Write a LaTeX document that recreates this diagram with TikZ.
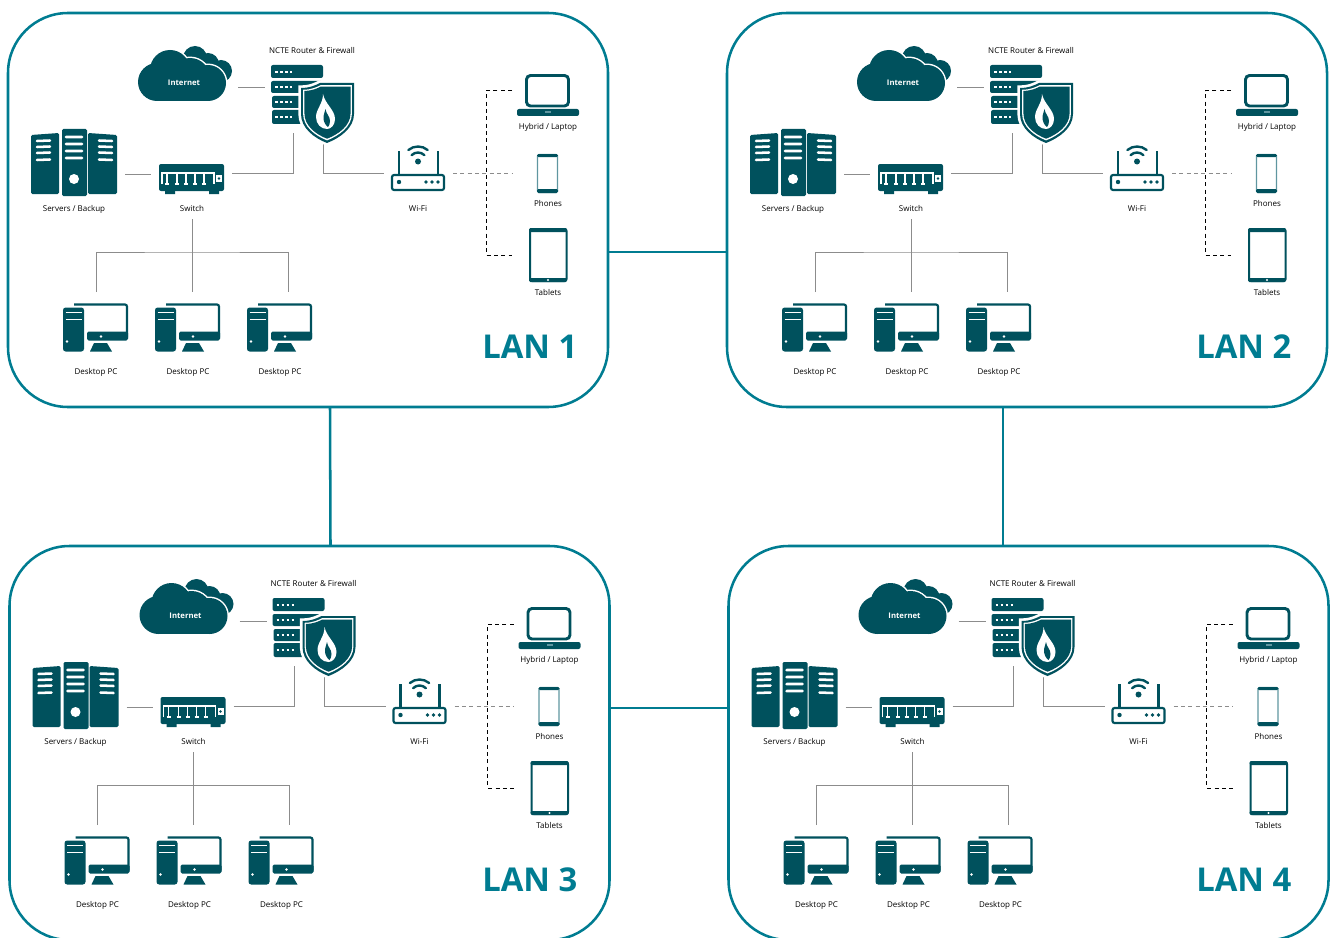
\documentclass[tikz,border=0pt]{standalone}
\usepackage{fontspec}
\setmainfont{Open Sans}
\usetikzlibrary{positioning}

\definecolor{icondark}{RGB}{0,81,93}
\definecolor{panelteal}{RGB}{0,124,145}
\definecolor{wiregray}{RGB}{140,140,140}
\definecolor{phoneedge}{RGB}{95,150,160}

\tikzset{
	panelbox/.style={draw=panelteal,line width=1.9pt,rounded corners=45pt,minimum width=450pt,minimum height=295.5pt,inner sep=0pt,outer sep=0pt},
	panellink/.style={draw=panelteal,line width=1.9pt},
	lbl/.style={font=\fontsize{6}{7}\selectfont,text=black,inner sep=0pt,outer sep=0pt,text height=6.5pt,text depth=1pt,minimum height=16.5pt},
	cloudlbl/.style={lbl,font=\fontsize{5.8}{7}\selectfont\bfseries,text=white},
	titlelbl/.style={font=\fontsize{24.6}{28}\selectfont\bfseries,text=panelteal,inner sep=0pt,anchor=west},
	wire/.style={draw=wiregray,line width=0.75pt},
	graydash/.style={draw=wiregray,line width=0.75pt,dash pattern=on 3pt off 2.5pt},
	blackdash/.style={draw=black,line width=0.75pt,dash pattern=on 3pt off 2.5pt},
	iconline/.style={draw=icondark,line width=1.6pt},
	whiteline/.style={draw=white,line width=1.9pt,line cap=round},
	pcicon/.pic={
		\fill[icondark,rounded corners=2pt] (0,4) rectangle (21,48);
		\draw[draw=white,line width=1.4pt] (2.5,9) -- (18.5,9) (2.5,16) -- (18.5,16);
		\fill[white] (4,38) circle (1.3);
		\draw[iconline,rounded corners=1.5pt] (11,1) -- (64,1) -- (64,34);
		\fill[icondark,rounded corners=1.2pt] (24,28) rectangle (65,37);
		\fill[white] (38,33) circle (1.4);
		\fill[icondark] (31,39.5) -- (44,39.5) -- (49,48) -- (27,48) -- cycle;
	}
}

\newcommand{\shieldpath}{(301,88) .. controls (310,88) and (316,85) .. (320,83) -- (354,83) -- (354,114) .. controls (354,128) and (340,138) .. (327,143) .. controls (314,138) and (301,128) .. (301,114) -- cycle}
\newcommand{\cloudfront}{(157,82) circle (19) (170,70) circle (20) (190,78) circle (20) (208,83) circle (18)}

\newcommand{\lanpanel}[5]{
	\begin{scope}[shift={(#2,#3)}]
		\node[panelbox] (#1) at (308,210) {};

		\node[lbl] (#1-fw) at (312,50) {NCTE Router \& Firewall};
		\node[lbl,below left=118.5pt and 90pt of #1-fw] (#1-switch) {Switch};
		\node[lbl,left=88.5pt of #1-switch] (#1-servers) {Servers / Backup};
		\node[lbl,right=169.5pt of #1-switch] (#1-wifi) {Wi-Fi};
		\node[lbl,below right=57pt and 177pt of #1-fw] (#1-laptop) {Hybrid / Laptop};
		\node[lbl,below=57.75pt of #1-laptop] (#1-phones) {Phones};
		\node[lbl,below=66.75pt of #1-phones] (#1-tablets) {Tablets};
		\node[lbl,below left=122.25pt and 72pt of #1-switch] (#1-pc1) {Desktop PC};
		\node[lbl,right=69pt of #1-pc1] (#1-pc2) {Desktop PC};
		\node[lbl,right=69pt of #1-pc2] (#1-pc3) {Desktop PC};

		\coordinate (#1-cloudport) at (238,88);
		\coordinate (#1-fwin) at (265,88);
		\coordinate (#1-srvport) at (125,174);
		\coordinate (#1-swleft) at (151,174);
		\coordinate (#1-swright) at (232,173);
		\coordinate (#1-fwdown) at (293,133);
		\coordinate (#1-fwout) at (323,143);
		\coordinate (#1-wifiin) at (384,173);
		\coordinate (#1-wifiout) at (453,173);
		\coordinate (#1-phoneport) at (512,173);
		\coordinate (#1-lapport) at (512,91);
		\coordinate (#1-dashbus) at (486,173);
		\coordinate (#1-tabport) at (512,255);
		\coordinate (#1-treebus) at (192,252);
		\coordinate (#1-drop1) at (96,292);
		\coordinate (#1-drop2) at (192,292);
		\coordinate (#1-drop3) at (288,292);

		\draw[wire] (#1-cloudport) -- (#1-fwin);
		\draw[wire] (#1-srvport) -- (#1-swleft);
		\draw[wire] (#1-swright) -| (#1-fwdown);
		\draw[wire] (#1-fwout) |- (#1-wifiin);
		\draw[wire] (#1-switch.south) -- (#1-drop2);
		\draw[wire] (#1-drop1) |- (#1-treebus) -| (#1-drop3);
		\draw[graydash] (#1-wifiout) -- (#1-phoneport);
		\draw[blackdash] (#1-lapport) -| (#1-dashbus) |- (#1-tabport);

		\fill[icondark] (195,58) circle (12);
		\fill[icondark] (208,64) circle (11);
		\fill[icondark] (221,71) circle (11);
		\draw[draw=white,line width=2.2pt,fill=white] \cloudfront;
		\fill[icondark] (157,82) circle (19);
		\fill[icondark] (170,70) circle (20);
		\fill[icondark] (190,78) circle (20);
		\fill[icondark] (208,83) circle (18);
		\fill[icondark] (157,75) rectangle (208,101);
		\node[cloudlbl,below left=24pt and 96pt of #1-fw] (#1-inet) {Internet};

		\fill[icondark,rounded corners=1.5pt] (271,65) rectangle (323,78) (271,81) rectangle (323,93) (272,96) rectangle (323,108) (272,110) rectangle (323,124);
		\draw[white,line width=2.2pt,dash pattern=on 1.9pt off 1.9pt] (275,72) -- (292,72) (275,87) -- (292,87) (275,102) -- (292,102) (275,117) -- (292,117);
		\draw[draw=white,line width=4pt] \shieldpath;
		\fill[icondark] \shieldpath;
		\fill[white,scale around={0.92:(327.5,110)}] \shieldpath;
		\fill[icondark,scale around={0.87:(327.5,110)}] \shieldpath;
		\fill[white] (323,94) .. controls (325,104) and (335,110) .. (335,119) .. controls (335,125) and (331,129) .. (327,129) .. controls (321,129) and (316,124) .. (316,117) .. controls (316,109) and (323,104) .. cycle;
		\fill[icondark] (325.5,109) .. controls (326,114) and (330,116) .. (330,121) .. controls (330,124) and (329,126) .. (328,127) .. controls (325,125) and (323.5,121) .. (323.5,118) .. controls (323.5,114) and (325,112) .. cycle;

		\fill[icondark,rounded corners=1pt] (31,135) -- (59,133) -- (59,194) -- (31,194) -- cycle (88,133) -- (117,135) -- (117,194) -- (88,194) -- cycle (62,129) rectangle (87,196);
		\draw[whiteline] (37,141) -- (50,140.5) (37,147) -- (50,146.5) (37,153) -- (50,152.5) (37,160) -- (50,159.5) (66,137) -- (82,137) (66,144) -- (82,144) (66,151) -- (82,151) (66,158) -- (82,158) (99,140.5) -- (112,141) (99,146.5) -- (112,147) (99,152.5) -- (112,153) (99,159.5) -- (112,160);
		\fill[white] (74,179) circle (5);

		\fill[icondark,rounded corners=1.5pt] (159,164) rectangle (224,191);
		\fill[icondark] (165,191) rectangle (175,194) (209,191) rectangle (219,194);
		\draw[draw=white,line width=0.9pt] (162,184) -- (162,173) -- (214,173) -- (214,184) (165,184) -- (169,184) (167,173) -- (167,184) (175,184) -- (179,184) (177,173) -- (177,184) (184,184) -- (188,184) (186,173) -- (186,184) (193,184) -- (197,184) (195,173) -- (195,184) (202,184) -- (206,184) (204,173) -- (204,184);
		\fill[white] (216,175) rectangle (222,182);
		\fill[icondark] (219,178.5) circle (1.4);

		\draw[draw=icondark,line width=1.6pt,rounded corners=1.5pt] (392,175) rectangle (444,190);
		\draw[draw=icondark,line width=1.6pt] (399,151) -- (399,174) (438,151) -- (438,174);
		\fill[icondark] (399,182) circle (2.2);
		\fill[icondark] (426,182) circle (1.8);
		\fill[icondark] (432,182) circle (1.8);
		\fill[icondark] (438,182) circle (1.8);
		\fill[icondark] (418,161.5) circle (3);
		\draw[draw=icondark,line width=1.8pt,line cap=round] (418,161.5) ++(-135:9) arc[start angle=-135,end angle=-45,radius=9];
		\draw[draw=icondark,line width=1.8pt,line cap=round] (418,161.5) ++(-130:15) arc[start angle=-130,end angle=-50,radius=15];

		\draw[draw=icondark,line width=2.2pt,rounded corners=3pt] (526.5,75.5) rectangle (568.5,106);
		\fill[icondark,rounded corners=1.5pt] (517,109) rectangle (579,116);
		\fill[phoneedge] (545,111) rectangle (551,113);

		\draw[draw=phoneedge,line width=0.8pt,rounded corners=1pt] (537.5,154.5) rectangle (557.5,192.5);
		\fill[icondark,rounded corners=1pt] (537,154) rectangle (558,157);
		\fill[icondark,rounded corners=1pt] (537,189) rectangle (558,193);

		\draw[draw=icondark,line width=1.5pt,rounded corners=1.5pt] (530,229) rectangle (566.5,281);
		\fill[icondark,rounded corners=1pt] (529,228) rectangle (567,232);
		\fill[icondark,rounded corners=1pt] (529,278) rectangle (567,282);
		\fill[white] (548,280) circle (1.1);

		\pic at (63,303.5) {pcicon};
		\pic at (155,303.5) {pcicon};
		\pic at (247,303.5) {pcicon};

		\node[titlelbl] (#1-title) at (#5,347) {#4};
	\end{scope}
}

\begin{document}
\begin{tikzpicture}[x=0.75pt,y=-0.75pt,on grid]
		\useasboundingbox (0,0) rectangle (1333,938);
		\clip (0,0) rectangle (1333,937.5);

		\lanpanel{lan1}{0}{0}{LAN 1}{482}
		\lanpanel{lan2}{719}{0}{LAN 2}{477}
		\lanpanel{lan3}{1.5}{533}{LAN 3}{480.5}
		\lanpanel{lan4}{720.5}{533}{LAN 4}{475.5}

		\draw[panellink] ([shift={(0,42)}]lan1.east) -- ([shift={(0,42)}]lan2.west);
		\draw[panellink] ([shift={(0,-35)}]lan3.east) -- ([shift={(0,-35)}]lan4.west);
		\draw[panellink] ([shift={(22,0)}]lan1.south) -- ([shift={(21,0)}]lan3.north);
		\draw[panellink] ([shift={(-24,0)}]lan2.south) -- ([shift={(-25.5,0)}]lan4.north);
	\end{tikzpicture}
\end{document}
